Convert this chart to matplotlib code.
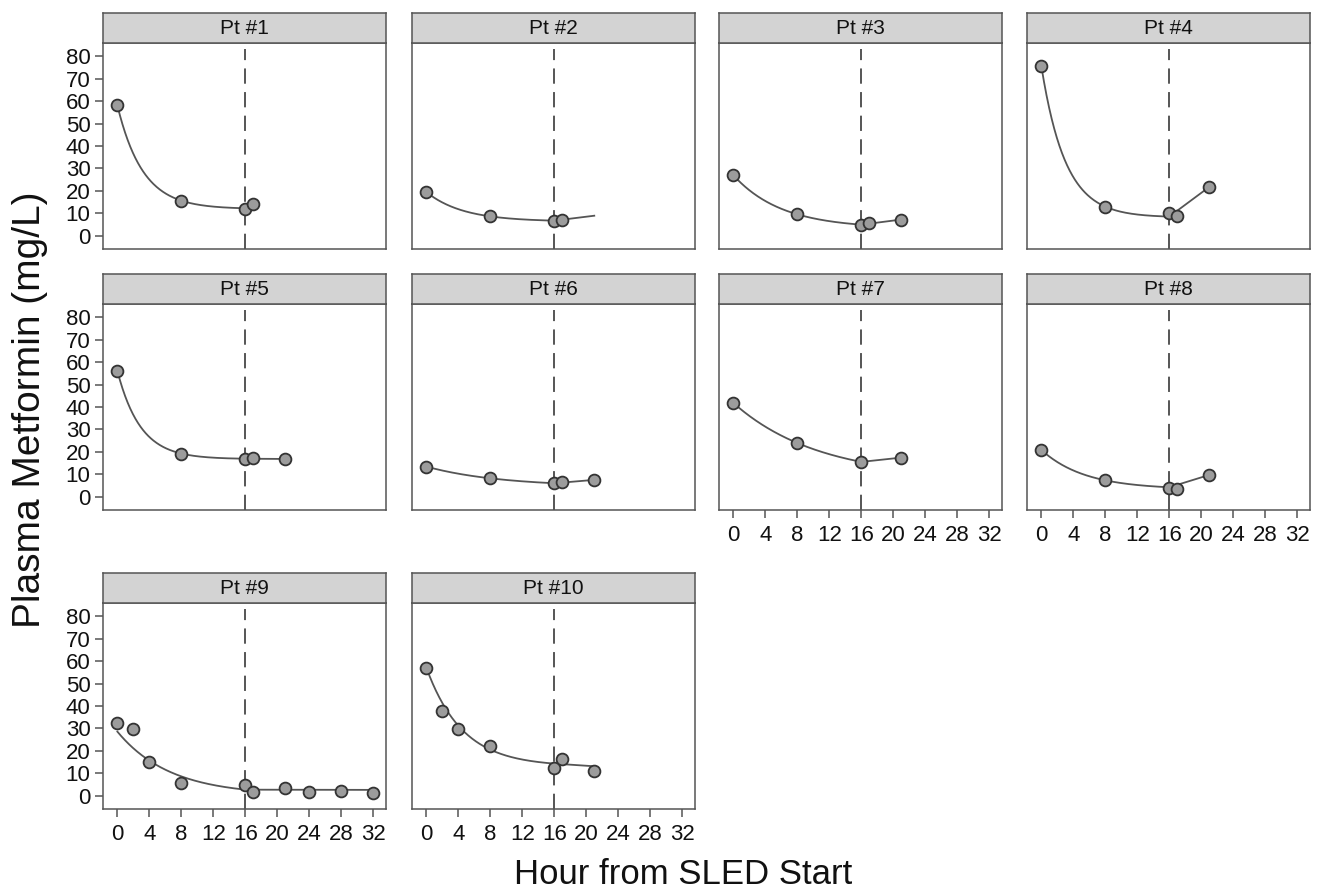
import numpy as np
import matplotlib.pyplot as plt
from matplotlib import font_manager

# ---- data ----
panel_titles = [f"Pt #{i}" for i in range(1, 11)]

sample_hours = [
    [0, 8, 16, 17],
    [0, 8, 16, 17],
    [0, 8, 16, 17, 21],
    [0, 8, 16, 17, 21],
    [0, 8, 16, 17, 21],
    [0, 8, 16, 17, 21],
    [0, 8, 16, 21],
    [0, 8, 16, 17, 21],
    [0, 2, 4, 8, 16, 17, 21, 24, 28, 32],
    [0, 2, 4, 8, 16, 17, 21],
]
metformin = [
    [58.2, 15.7, 12.0, 14.4],
    [19.6, 8.7, 6.8, 7.0],
    [27.0, 9.6, 4.7, 5.9, 7.3],
    [75.4, 13.0, 10.4, 9.0, 21.8],
    [56.1, 19.3, 16.9, 17.2, 16.9],
    [13.5, 8.3, 6.1, 6.7, 7.6],
    [41.8, 24.0, 15.6, 17.5],
    [20.9, 7.4, 4.1, 3.7, 9.8],
    [32.6, 29.6, 15.2, 5.9, 5.0, 1.9, 3.6, 1.9, 2.2, 1.5],
    [57.0, 37.9, 29.9, 22.4, 12.6, 16.3, 11.0],
]

# fitted decay during SLED (0-16 h): value at start, plateau, rate (1/h)
fit_start = [58.0, 19.5, 27.0, 75.4, 56.0, 13.5, 41.8, 20.9, 28.6, 57.0]
fit_plateau = [12.0, 6.4, 3.35, 8.27, 16.85, 4.49, 8.1, 3.38, 0.31, 13.1]
fit_rate = [0.315, 0.217, 0.166, 0.331, 0.346, 0.108, 0.094, 0.184, 0.152, 0.221]
# line after SLED stop: end hour and end value
post_hour = [None, 21, 21, 21, 21, 21, 21, 21, 32, 21]
post_value = [None, 9.0, 7.3, 21.8, 16.9, 7.6, 17.5, 9.8, 2.7, 13.2]

sled_stop = 16
x_ticks = np.arange(0, 33, 4)
y_ticks = np.arange(0, 81, 10)

# ---- fonts ----
names = {f.name for f in font_manager.fontManager.ttflist}
narrow = "Liberation Sans Narrow" if "Liberation Sans Narrow" in names else "Liberation Sans"
plt.rcParams["font.family"] = ["Liberation Sans", "DejaVu Sans"]
plt.rcParams["lines.scale_dashes"] = False

dark = "#555555"

W, H = 1320, 892
fig = plt.figure(figsize=(W / 100, H / 100), dpi=100)

col_left = [103, 412, 719, 1027]
row_top = [43, 304, 603]
pw, ph, strip_h = 283, 206, 30

for i in range(10):
    r, c = divmod(i, 4)
    l, t = col_left[c], row_top[r]
    ax = fig.add_axes([l / W, (H - t - ph) / H, pw / W, ph / H])
    strip = fig.add_axes([l / W, (H - t) / H, pw / W, strip_h / H])

    # strip header
    strip.set_facecolor("#d3d3d3")
    strip.set_xticks([])
    strip.set_yticks([])
    for s in strip.spines.values():
        s.set_color(dark)
        s.set_linewidth(1.1)
    strip.text(0.5, 0.47, panel_titles[i], ha="center", va="center",
               fontsize=15, family=narrow, color="#111111",
               transform=strip.transAxes)

    # fitted curve
    tt = np.linspace(0, sled_stop, 200)
    curve = fit_plateau[i] + (fit_start[i] - fit_plateau[i]) * np.exp(-fit_rate[i] * tt)
    ax.plot(tt, curve, color=dark, lw=1.3, zorder=2)
    if post_hour[i] is not None:
        ax.plot([sled_stop, post_hour[i]], [curve[-1], post_value[i]],
                color=dark, lw=1.3, zorder=2)

    ax.axvline(sled_stop, ymax=0.97, color=dark, lw=1.4, dashes=(11, 6), zorder=1)

    ax.plot(sample_hours[i], metformin[i], "o", ms=8.5, mfc="#9c9c9c",
            mec="#333333", mew=1.3, zorder=3)

    ax.set_xlim(-1.8, 33.6)
    ax.set_ylim(-5.8, 85.8)
    for s in ax.spines.values():
        s.set_color(dark)
        s.set_linewidth(1.1)

    ax.tick_params(colors=dark, length=6, width=1.1, labelcolor="#111111",
                   labelsize=16)
    if i in (6, 7, 8, 9):
        ax.set_xticks(x_ticks)
        ax.set_xticklabels([str(v) for v in x_ticks], family=narrow)
        ax.tick_params(axis="x", pad=5)
    else:
        ax.set_xticks([])
    if c == 0:
        ax.set_yticks(y_ticks)
        ax.set_yticklabels([str(v) for v in y_ticks], family=narrow)
        ax.tick_params(axis="y", pad=3)
    else:
        ax.set_yticks([])

fig.text(30 / W, 1 - 410 / H, "Plasma Metformin (mg/L)", rotation=90,
         ha="center", va="center", fontsize=28, color="#111111")
fig.text(683 / W, 1 - 875 / H, "Hour from SLED Start", ha="center",
         va="center", fontsize=25, color="#111111")

fig.savefig("out.png", dpi=100)
